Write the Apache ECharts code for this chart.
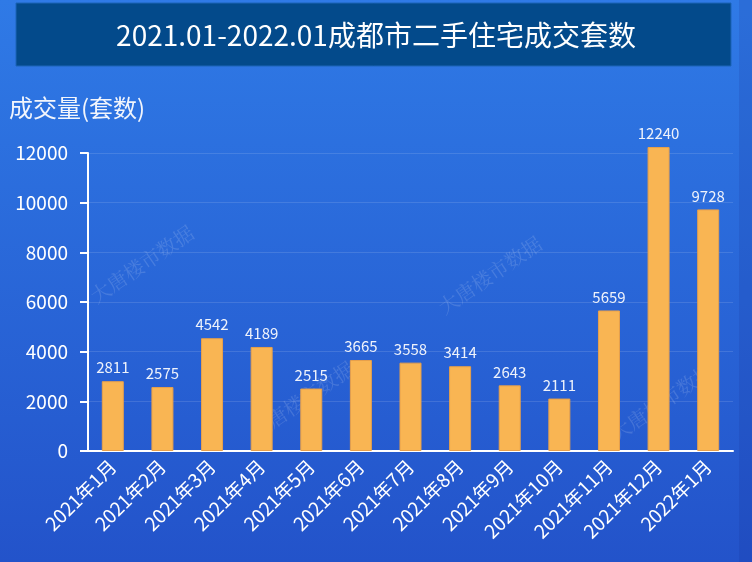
<!DOCTYPE html>
<html lang="zh-CN">
<head>
    <meta charset="UTF-8">
    <script src="https://cdn.jsdelivr.net/npm/echarts@6/dist/echarts.min.js"></script>
    <title>成都市二手住宅成交套数</title>
    <style>
        html, body {
            margin: 0;
            padding: 0;
        }

        #main {
            width: 752px;
            height: 562px;
        }
    </style>
</head>

<body>
<div id="main"></div>

<script>
    // 月份
    var months = ['2021年1月', '2021年2月', '2021年3月', '2021年4月', '2021年5月', '2021年6月',
        '2021年7月', '2021年8月', '2021年9月', '2021年10月', '2021年11月', '2021年12月', '2022年1月'];
    // 成交套数
    var deals = [2811, 2575, 4542, 4189, 2515, 3665, 3558, 3414, 2643, 2111, 5659, 12240, 9728];
    // 纵轴刻度
    var yMin = 0;
    var yMax = 12000;
    var yStep = 2000;

    var fontCN = '"Noto Sans CJK SC", "Noto Sans", sans-serif';

    // 水印
    var marks = [[142, 264], [302, 400], [490, 275], [662, 402]];
    var markEls = [];
    for (var i = 0; i < marks.length; i++) {
        markEls.push({
            type: 'text',
            x: marks[i][0],
            y: marks[i][1],
            rotation: 0.6,
            z: 0,
            silent: true,
            style: {
                text: '大唐楼市数据',
                fill: 'rgba(255,255,255,0.14)',
                font: '20px "Noto Serif CJK SC", "DejaVu Serif", serif',
                textAlign: 'center',
                textVerticalAlign: 'middle'
            }
        });
    }

    var myChart = echarts.init(document.getElementById('main'));

    var option = {
        backgroundColor: {
            type: 'linear', x: 0, y: 0, x2: 0, y2: 1,
            colorStops: [
                {offset: 0, color: '#2f7ae6'},
                {offset: 1, color: '#2353ca'}
            ]
        },
        graphic: [
            {
                type: 'rect',
                shape: {x: 739, y: 0, width: 13, height: 562},
                style: {fill: 'rgba(20,40,140,0.15)'},
                silent: true
            },
            {
                type: 'rect',
                shape: {x: 16, y: 3, width: 715, height: 63},
                style: {fill: '#034a8b', stroke: '#1d64b8', lineWidth: 1},
                silent: true
            },
            {
                type: 'text',
                x: 376,
                y: 35,
                style: {
                    text: '2021.01-2022.01成都市二手住宅成交套数',
                    fill: '#ffffff',
                    font: '28px ' + fontCN,
                    textAlign: 'center',
                    textVerticalAlign: 'middle'
                }
            },
            {
                type: 'text',
                x: 9,
                y: 108,
                style: {
                    text: '成交量(套数)',
                    fill: '#f2f5fc',
                    font: '24px ' + fontCN,
                    textAlign: 'left',
                    textVerticalAlign: 'middle'
                }
            }
        ].concat(markEls),
        grid: {
            left: 88,
            right: 19,
            top: 153,
            bottom: 111
        },
        xAxis: {
            type: 'category',
            data: months,
            axisLine: {lineStyle: {color: '#ffffff', width: 2}},
            axisTick: {length: 9, lineStyle: {color: '#ffffff', width: 2}},
            axisLabel: {
                color: '#ffffff',
                fontSize: 19,
                fontFamily: fontCN,
                rotate: 45,
                interval: 0,
                margin: 12
            }
        },
        yAxis: {
            type: 'value',
            min: yMin,
            max: yMax,
            interval: yStep,
            axisLine: {show: true, lineStyle: {color: '#ffffff', width: 2}},
            axisTick: {show: true, length: 8, lineStyle: {color: '#ffffff', width: 2}},
            axisLabel: {
                color: '#ffffff',
                fontSize: 19,
                fontFamily: fontCN,
                margin: 20,
                formatter: function (v) {
                    return String(v);
                }
            },
            splitLine: {lineStyle: {color: 'rgba(255,255,255,0.12)', width: 1}}
        },
        series: [
            {
                name: '成交套数',
                type: 'bar',
                data: deals,
                barWidth: 22,
                clip: false,
                itemStyle: {
                    color: '#f9b553',
                    borderColor: '#e8a04a',
                    borderWidth: 1
                },
                label: {
                    show: true,
                    position: 'top',
                    color: '#eef2fb',
                    fontSize: 15,
                    fontFamily: fontCN,
                    distance: 6
                }
            }
        ]
    };

    myChart.setOption(option);
</script>

</body>

</html>
